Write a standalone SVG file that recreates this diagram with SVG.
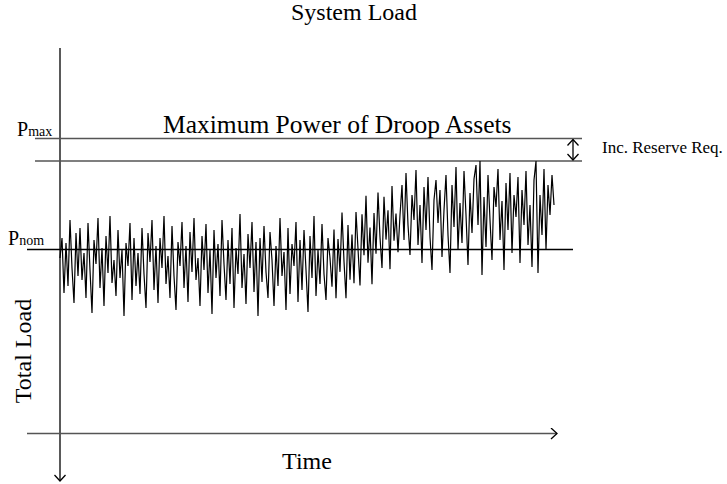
<svg xmlns="http://www.w3.org/2000/svg" width="727" height="484" viewBox="0 0 727 484" font-family="'Liberation Serif', 'Times New Roman', 'DejaVu Serif', serif">
<style>
text{font-family:'Liberation Serif','Times New Roman','DejaVu Serif',serif;fill:#000}
.ln{stroke:#555;stroke-width:1.3;fill:none}
.ax{stroke:#000;stroke-width:1.3;fill:none}
.wave{fill:none;stroke:#000;stroke-width:1.2;stroke-linejoin:miter;stroke-miterlimit:10}
</style>
<defs>
<marker id="open" viewBox="0 0 12 12" refX="11" refY="6" markerWidth="12" markerHeight="12" markerUnits="userSpaceOnUse" orient="auto-start-reverse">
<path d="M5,0.5 L11,6 L5,11.5" fill="none" stroke="#000" stroke-width="1.3"/>
</marker>
</defs>
<g id="title"><text x="354" y="20" font-size="24" text-anchor="middle" font-family="Liberation Serif, serif">System Load</text></g>
<g id="connectors">
<line id="y-axis" class="ax" x1="60" y1="48" x2="60" y2="481" marker-end="url(#open)"/>
<line id="x-axis" class="ln" x1="27" y1="433.5" x2="557" y2="433.5" marker-end="url(#open)"/>
<line id="pmax-line" class="ln" x1="35" y1="138.5" x2="582" y2="138.5"/>
<line id="reserve-line" class="ln" x1="35" y1="161" x2="582" y2="161"/>
<line id="pnom-line" class="ax" x1="27" y1="249.5" x2="573" y2="249.5"/>
<line id="reserve-arrow" class="ax" x1="573" y1="139.5" x2="573" y2="160" marker-start="url(#open)" marker-end="url(#open)"/>
</g>
<g id="load-signal">
<polyline class="wave" transform="translate(0,258)" points="60,0 62,-20 64,35 66,-15 68,28 70,-38 72,10 74,45 76,-25 78,18 80,-30 82,22 84,-5 86,40 88,-35 90,12 92,55 94,-18 96,6 98,-40 100,30 102,-10 104,48 106,-22 108,15 110,-42 112,25 114,2 116,38 118,-28 120,20 122,-8 124,58 126,-15 128,8 130,-35 132,42 134,-20 136,28 138,-5 140,36 142,-30 144,16 146,50 148,-25 150,4 152,-38 154,32 156,-12 158,45 160,-20 162,10 164,-42 166,26 168,-2 170,40 172,-32 174,18 176,52 178,-16 180,8 182,-36 184,30 186,-12 188,44 190,-26 192,14 194,-40 196,22 198,0 200,48 202,-22 204,12 206,-34 208,35 210,-8 212,56 214,-28 216,20 218,-14 220,38 222,-38 224,6 226,42 228,-18 230,26 232,-30 234,50 236,-10 238,16 240,-44 242,30 244,-4 246,46 248,-24 250,10 252,-36 254,34 256,-16 258,58 260,-20 262,24 264,-32 266,14 268,40 270,-26 272,2 274,48 276,-12 278,28 280,-40 282,18 284,-6 286,52 288,-30 290,36 292,-14 294,8 296,-36 298,44 300,-18 302,32 304,-28 306,12 308,54 310,-22 312,20 314,-42 316,38 318,-8 320,26 322,-34 324,16 326,42 328,-20 330,0"/>
<polyline class="wave" vector-effect="non-scaling-stroke" transform="matrix(1 -0.6143 0 1 0 460.71)" points="330,0 332,30 334,-26 336,44 338,-14 340,20 342,-38 344,12 346,50 348,-22 350,34 352,-10 354,40 356,-30 358,8 360,46 362,-24 364,18 366,-40 368,28 370,-6 372,52 374,-18 376,24 378,-36 380,10 382,42 384,-28 386,16 388,-12 390,48 392,-34 394,22 396,-4 398,36 400,0"/>
<polyline class="wave" transform="translate(0,215)" points="400,0 402,-30 404,25 406,-42 408,10 410,40 412,-20 414,5 416,-45 418,30 420,-10 422,48 424,-28 426,15 428,-38 430,22 432,55 434,-15 436,-35 438,8 440,-25 442,42 444,-5 446,-40 448,20 450,58 452,-30 454,12 456,-48 458,35 460,-12 462,28 464,-44 466,0 468,50 470,-22 472,18 474,-36 476,-50 478,10 480,-54 482,60 484,-18 486,32 488,-40 490,5 492,45 494,-28 496,-8 498,-46 500,25 502,-14 504,55 506,-32 508,15 510,-42 512,38 514,-20 516,2 518,-38 520,48 522,-25 524,10 526,-44 528,30 530,-10 532,52 534,-35 536,-54 538,58 540,-20 542,20 544,-46 546,35 548,-30 550,0 552,-40 554,-10"/>
</g>
<g id="label-pmax"><text x="17" y="136" font-size="20" font-family="Liberation Serif, serif">P<tspan font-size="14">max</tspan></text></g>
<g id="label-pnom"><text x="8" y="245" font-size="20" font-family="Liberation Serif, serif">P<tspan font-size="14">nom</tspan></text></g>
<g id="label-max-power"><text x="163" y="133" font-size="25.5" font-family="Liberation Serif, serif">Maximum Power of Droop Assets</text></g>
<g id="label-reserve"><text x="602" y="153" font-size="17" font-family="Liberation Serif, serif">Inc. Reserve Req.</text></g>
<g id="label-total-load"><text transform="translate(31,351) rotate(-90)" font-size="24" text-anchor="middle" font-family="Liberation Serif, serif">Total Load</text></g>
<g id="label-time"><text x="307" y="469" font-size="24" text-anchor="middle" font-family="Liberation Serif, serif">Time</text></g>
</svg>
